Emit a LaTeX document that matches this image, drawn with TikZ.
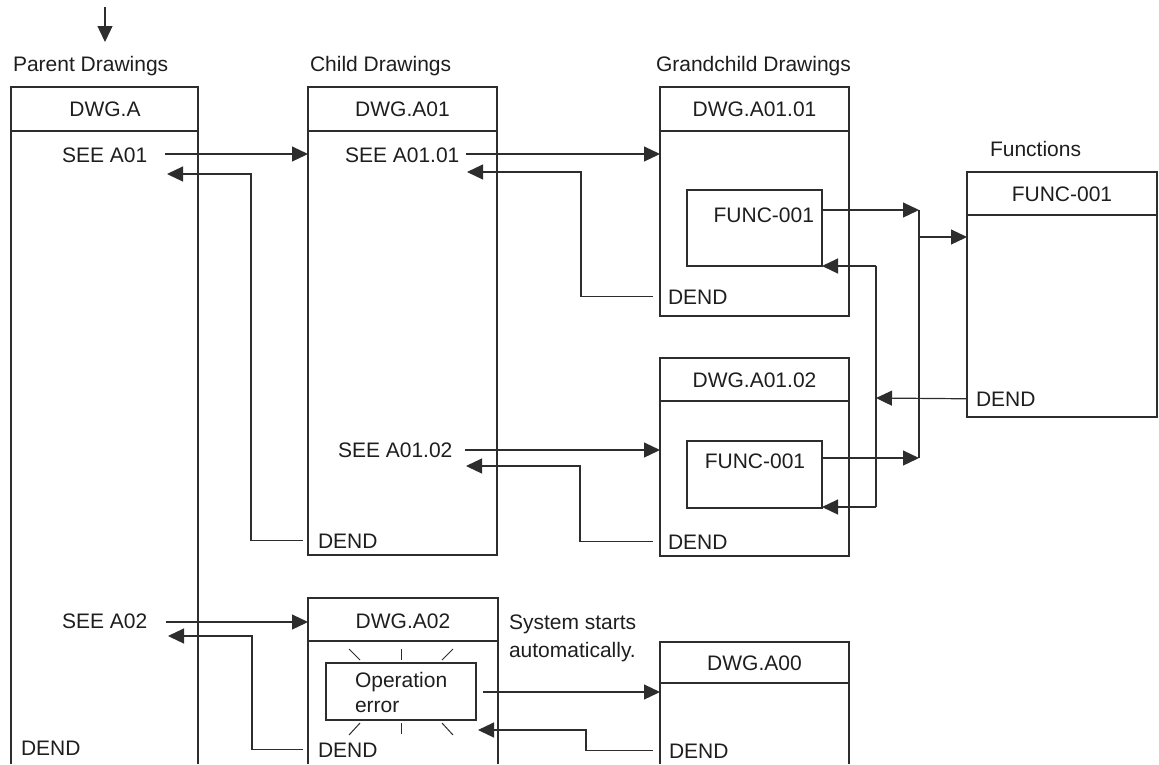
\documentclass[tikz,border=0pt]{standalone}
\usepackage{fontspec}
\setmainfont{Liberation Sans}
\usetikzlibrary{arrows.meta}
\definecolor{lc}{RGB}{45,45,45}
\definecolor{tc}{RGB}{30,30,30}
\begin{document}
\begin{tikzpicture}[x=1pt,y=-1pt]
\tikzset{
  ln/.style={draw=lc, line width=1.2pt},
  arr/.style={ln, -{Triangle[length=16pt,width=15pt]}},
  txt/.style={inner sep=0pt, outer sep=0pt, text=tc, font=\fontsize{21pt}{25pt}\selectfont},
  box/.style={draw=lc, line width=1.2pt, inner sep=0pt, outer sep=0pt, anchor=north west},
  frame/.style={inner sep=0pt, outer sep=0pt, anchor=north west},
  ray/.style={draw=lc, line width=1pt},
}
\useasboundingbox (0,0) rectangle (1159,764);

% ---------- column labels ----------
\node[txt, anchor=base west] (lpar) at (13,71) {Parent Drawings};
\node[txt, anchor=base west] (lchild) at (310,71) {Child Drawings};
\node[txt, anchor=base west] (lgc) at (656,71) {Grandchild Drawings};
\node[txt, anchor=base west] (lfun) at (990,156) {Functions};
\coordinate (start) at (105,7);
\draw[arr] (start) -- (105,42);

% ---------- parent box (open bottom) ----------
\node[frame, minimum width=187pt, minimum height=677pt] (par) at (11,87) {};
\draw[ln] (par.south west) -- (par.north west) -- (par.north east) -- (par.south east);
\draw[ln] ([yshift=-44pt]par.north west) -- ([yshift=-44pt]par.north east);
\node[txt, anchor=base] (tpar) at (105,116) {DWG.A};
\node[txt, anchor=base west] (seeA01) at (62,162) {SEE A01};
\node[txt, anchor=base west] (seeA02) at (62,628) {SEE A02};
\node[txt, anchor=base west] (dendP) at (21,755) {DEND};

% ---------- child box A01 ----------
\node[box, minimum width=189pt, minimum height=468pt] (A01) at (308,87) {};
\draw[ln] ([yshift=-44pt]A01.north west) -- ([yshift=-44pt]A01.north east);
\node[txt, anchor=base] (tA01) at (402.5,116) {DWG.A01};
\node[txt, anchor=base west] (seeA0101) at (345,162) {SEE A01.01};
\node[txt, anchor=base west] (seeA0102) at (338,457) {SEE A01.02};
\node[txt, anchor=base west] (dendA01) at (318,548) {DEND};

% ---------- grandchild A01.01 ----------
\node[box, minimum width=189pt, minimum height=229pt] (G1) at (660,87) {};
\draw[ln] ([yshift=-44pt]G1.north west) -- ([yshift=-44pt]G1.north east);
\node[txt, anchor=base] (tG1) at (754.5,116) {DWG.A01.01};
\node[box, minimum width=135pt, minimum height=76pt] (F1) at (687,190) {};
\node[txt, anchor=base east] (tF1) at (814,222) {FUNC-001};
\node[txt, anchor=base west] (dendG1) at (668,304) {DEND};

% ---------- grandchild A01.02 ----------
\node[box, minimum width=189pt, minimum height=198pt] (G2) at (660,358) {};
\draw[ln] ([yshift=-43pt]G2.north west) -- ([yshift=-43pt]G2.north east);
\node[txt, anchor=base] (tG2) at (754.5,387) {DWG.A01.02};
\node[box, minimum width=135pt, minimum height=67pt] (F2) at (687,441) {};
\node[txt, anchor=base] (tF2) at (755,468) {FUNC-001};
\node[txt, anchor=base west] (dendG2) at (668,549) {DEND};

% ---------- functions box ----------
\node[box, minimum width=190pt, minimum height=245pt] (FN) at (967,172) {};
\draw[ln] ([yshift=-43pt]FN.north west) -- ([yshift=-43pt]FN.north east);
\node[txt, anchor=base] (tFN) at (1062,201) {FUNC-001};
\node[txt, anchor=base west] (dendFN) at (976,406) {DEND};

% ---------- child A02 (open bottom) ----------
\node[frame, minimum width=190pt, minimum height=166pt] (A02) at (308,598) {};
\draw[ln] (A02.south west) -- (A02.north west) -- (A02.north east) -- (A02.south east);
\draw[ln] ([yshift=-43pt]A02.north west) -- ([yshift=-43pt]A02.north east);
\node[txt, anchor=base] (tA02) at (403,628) {DWG.A02};
\node[box, minimum width=150pt, minimum height=57pt] (OE) at (326,663) {};
\node[txt, anchor=base west] (tOE1) at (355,687) {Operation};
\node[txt, anchor=base west] (tOE2) at (355,712) {error};
\node[txt, anchor=base west] (dendA02) at (318,757) {DEND};
% flashing rays
\draw[ray] (349,649) -- (360,660);
\draw[ray] (401,649) -- (401,660);
\draw[ray] (453,649) -- (442,660);
\draw[ray] (349,735) -- (360,723);
\draw[ray] (401,723) -- (401,734);
\draw[ray] (453,735) -- (442,723);
\node[txt, anchor=base west] (sys1) at (509,629) {System starts};
\node[txt, anchor=base west] (sys2) at (509,657) {automatically.};

% ---------- DWG.A00 (open bottom) ----------
\node[frame, minimum width=189pt, minimum height=122pt] (A00) at (660,642) {};
\draw[ln] (A00.south west) -- (A00.north west) -- (A00.north east) -- (A00.south east);
\draw[ln] ([yshift=-41pt]A00.north west) -- ([yshift=-41pt]A00.north east);
\node[txt, anchor=base] (tA00) at (754.5,670) {DWG.A00};
\node[txt, anchor=base west] (dendA00) at (669,758) {DEND};

% ---------- connectors ----------
% parent <-> child A01
\draw[arr] (165,154) -- (A01.west |- 0,154);
\draw[arr] ([xshift=-15pt]dendA01.west) -| (251,174) -- (167,174);
% child A01 <-> grandchild 1
\draw[arr] (466,154) -- (G1.west |- 0,154);
\draw[arr] ([xshift=-15pt]dendG1.west) -| (581,172) -- (467,172);
% child A01 <-> grandchild 2
\draw[arr] (465,450) -- (G2.west |- 0,450);
\draw[arr] ([xshift=-15pt]dendG2.west) -| (580,466) -- (466,466);
% grandchildren -> function
\coordinate (bus) at (919,210);
\draw[arr] (F1.east |- 0,210) -- (bus);
\draw[arr] (F2.east |- 0,458) -- (919,458);
\draw[ln] (bus) -- (919,458);
\draw[arr] (919,237) -- (FN.west |- 0,237);
% function -> back to grandchildren
\draw[arr] ([xshift=-9pt]dendFN.west) -- (876,398);
\draw[ln] (876,266) -- (876,507);
\draw[arr] (876,266) -- (F1.south east);
\draw[arr] (876,507) -- (F2.east |- 0,507);
% parent <-> child A02
\draw[arr] (166,622) -- (A02.west |- 0,622);
\draw[arr] ([xshift=-15pt]dendA02.west) -| (252,636) -- (168,636);
% A02 <-> A00
\draw[arr] (483,692) -- (A00.west |- 0,692);
\draw[arr] ([xshift=-16pt]dendA00.west) -| (586,730) -- (478,730);
\end{tikzpicture}
\end{document}
